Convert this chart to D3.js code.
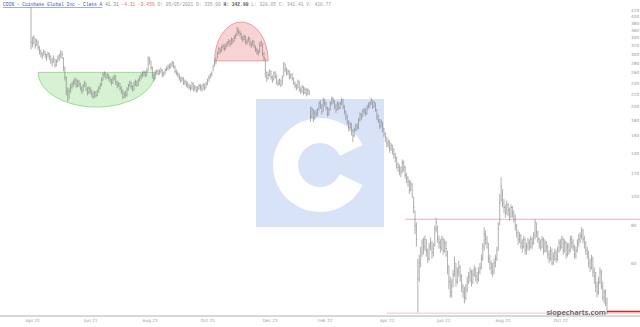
<!DOCTYPE html>
<html><head><meta charset="utf-8">
<script src="https://cdn.jsdelivr.net/npm/d3@7"></script>
<style>html,body{margin:0;padding:0;background:#fff;}svg{display:block;}</style>
</head><body>
<svg id="chart" width="640" height="327"></svg>
<script>
const lows = [310,315,322,312,318,308,298,292,288,296,290,284,292,286,278,272,280,270,272,280,284,290,288,262,244,218,208,212,222,228,232,236,230,232,232,226,220,224,232,225,218,220,220,215,212,214,214,216,222,228,234,244,250,246,248,244,240,235,238,244,236,230,232,226,220,212,213,214,216,226,232,228,224,226,234,232,234,242,246,250,252,250,252,262,276,264,248,242,246,255,254,255,258,250,252,256,262,264,266,268,272,
268,258,254,250,244,240,242,236,236,232,230,228,225,228,224,226,222,224,228,226,224,228,226,230,236,242,248,252,262,272,276,290,298,300,304,310,306,310,316,322,316,322,324,330,336,344,348,342,334,328,332,322,322,328,318,314,318,312,304,298,296,302,316,294,284,250,242,246,252,246,240,244,248,236,234,236,232,236,252,260,254,254,246,248,244,236,230,226,230,224,220,222,218,220,216,218,218,178,182,177,180,184,186,194,196,188,192,200,194,185,186,194,202,204,196,190,194,194,196,202,196,188,180,174,165,166,160,152,158,165,166,168,178,180,184,188,186,188,196,198,202,196,198,192,180,176,168,170,164,158,152,146,146,140,142,138,134,130,124,121,118,116,120,121,115,111,108,102,104,99,88,75,68,41,52,58,63,64,66,63,60,61,66,62,63,68,76,70,67,65,66,64,65,63,55,49,46,46,50,54,50,51,54,52,48,46,44,45,48,51,52,50,51,54,52,51,52,55,57,61,66,69,67,60,57,55,54,55,58,61,66,80,96,92,88,85,87,86,83,85,85,82,77,73,69,70,67,65,67,64,64,66,66,67,67,69,72,73,70,67,66,67,64,65,65,62,60,61,59,59,61,60,61,65,66,67,64,65,62,63,64,65,67,66,62,62,65,68,70,72,70,67,64,62,58,56,57,54,51,48,46,47,51,49,45,44,43,40.5];
const highs = [429,342,346,338,336,332,318,310,304,310,306,300,305,302,296,290,296,288,288,296,300,308,306,292,272,252,232,230,238,242,246,250,248,246,245,240,234,238,244,240,232,234,232,228,224,226,225,228,234,240,250,260,262,260,258,256,252,248,252,256,254,244,242,240,234,228,224,226,232,238,244,242,236,242,246,244,248,254,258,262,264,262,268,294,292,284,272,258,264,266,266,266,270,266,262,268,272,276,278,280,284,
282,274,266,262,258,252,252,250,246,244,242,238,236,242,240,236,234,234,238,238,236,240,238,242,248,254,258,262,276,286,292,306,316,314,320,324,322,326,330,336,334,340,338,346,352,369,364,358,352,344,348,344,336,344,340,330,334,332,320,314,310,328,332,326,304,290,262,260,266,264,254,262,262,256,246,248,246,254,282,278,270,266,264,258,258,250,242,238,246,244,232,236,234,232,230,230,228,200,199,196,194,195,198,208,210,204,214,212,208,200,198,208,216,215,210,204,208,206,208,214,212,202,194,188,180,178,176,168,170,175,176,183,192,190,196,198,197,202,206,208,214,210,209,206,196,188,182,181,178,170,164,158,156,154,151,149,145,140,136,130,128,126,133,132,127,120,117,114,113,111,100,90,82,62,64,68,72,73,74,72,67,70,73,71,70,80,85,80,74,72,74,73,72,71,66,59,54,53,57,63,60,58,61,59,55,51,50,51,54,56,58,57,57,59,58,56,58,60,64,70,79,77,74,70,64,61,60,62,64,68,82,102,116,106,98,94,97,95,92,94,93,90,87,81,77,76,75,72,74,73,70,73,72,74,73,76,84,82,77,73,72,74,73,72,71,69,66,68,67,65,67,66,68,72,72,74,73,72,71,70,70,74,74,72,69,68,72,75,76,79,78,74,71,68,66,62,64,63,58,56,52,54,58,57,52,49,49,46];
const closes = [328,325,340,320,330,315,305,300,295,305,298,290,300,295,285,280,290,275,282,290,295,302,298,270,250,225,210,225,232,238,240,245,236,242,238,230,225,235,240,228,222,230,225,220,215,222,218,225,230,235,245,255,258,250,255,250,245,240,248,252,240,235,238,230,225,215,220,218,228,235,240,232,228,238,242,236,245,250,255,258,260,255,262,290,285,270,255,248,260,262,258,262,265,255,258,265,268,272,270,275,280,
272,262,258,255,250,245,248,240,242,238,235,232,230,238,228,232,226,230,235,232,228,236,230,238,245,250,255,258,270,280,285,300,310,305,315,318,312,320,325,330,322,335,330,340,345,360,355,350,340,335,342,328,330,338,325,320,330,318,310,305,302,320,328,300,290,260,248,255,262,250,245,258,252,240,238,245,235,250,278,265,258,262,250,255,248,240,235,230,242,228,225,232,222,228,220,226,222,185,195,182,190,188,195,205,200,192,210,205,198,188,195,205,212,208,200,195,205,198,205,210,200,192,185,178,170,175,165,160,168,172,170,180,188,185,192,195,190,198,202,205,210,200,206,195,185,180,172,178,168,162,158,150,152,145,148,142,138,135,128,125,122,120,130,125,118,115,112,105,110,102,92,80,72,53,60,65,70,68,72,66,62,68,70,65,67,78,82,72,70,68,72,66,70,67,58,52,48,50,55,60,52,56,58,54,50,48,46,49,52,54,56,52,55,57,54,53,56,58,62,68,75,72,70,62,60,58,56,60,62,66,78,95,108,95,92,88,94,90,86,92,88,86,80,76,72,74,70,68,72,66,68,70,68,72,70,74,82,76,72,70,68,72,66,70,68,64,62,66,60,63,65,62,66,70,68,72,66,70,64,68,66,72,70,68,64,66,70,72,74,77,72,70,66,64,60,58,62,56,54,50,48,52,56,50,46,48,44,41.31];

const priceTicks = [60,80,100,120,140,160,180,200,220,240,260,280,300,320,340,360,380,400,420];
const dateTickIndex = [1,42,84,125,169,208,252,292,334,375];
const dateTickLabels = ["Apr 21","Jun 21","Aug 21","Oct 21","Dec 21","Feb 22","Apr 22","Jun 22","Aug 22","Oct 22"];

// annotations in data units: [startIndex, endIndex, basePrice, extremePrice]
const bowl = [5, 88, 260, 199];
const dome = [130, 168, 284, 383];
const resistance = [265, 84];
const support = [252, 40.8];
const lastPrice = 41.31;

const W = 640, H = 327;
const svg = d3.select("#chart");
const N = closes.length;
const x = d3.scaleLinear().domain([0, N - 1]).range([31, 607]);
const y = d3.scaleLog().domain([60, 420]).range([263, 10]);

// watermark logo
const logo = svg.append("g");
logo.append("rect").attr("x", 256).attr("y", 99).attr("width", 128).attr("height", 128).attr("fill", "#d9e3f8");
const arc = d3.arc().innerRadius(22).outerRadius(47).startAngle(Math.PI * 0.64).endAngle(Math.PI * 2.36);
logo.append("path").attr("d", arc()).attr("transform", "translate(320,165)").attr("fill", "#ffffff");

// half ellipses
function halfEllipse(a, down) {
  const x0 = x(a[0]), x1 = x(a[1]), yb = y(a[2]), ye = y(a[3]);
  const rx = (x1 - x0) / 2, ry = Math.abs(ye - yb);
  const sweep = down ? 0 : 1;
  return `M${x0},${yb} A${rx},${ry} 0 0 ${sweep} ${x1},${yb} Z`;
}
svg.append("path").attr("d", halfEllipse(bowl, true)).attr("fill", "#d6f2d3").attr("stroke", "#8fd08a").attr("stroke-width", 0.8);
svg.append("path").attr("d", halfEllipse(dome, false)).attr("fill", "#f9d3d3").attr("stroke", "#e48a8a").attr("stroke-width", 0.8);

// horizontal lines
svg.append("line").attr("x1", x(resistance[0])).attr("x2", W).attr("y1", y(resistance[1])).attr("y2", y(resistance[1])).attr("stroke", "#dcaed0").attr("stroke-width", 1);
svg.append("line").attr("x1", x(support[0])).attr("x2", W).attr("y1", y(support[1])).attr("y2", y(support[1])).attr("stroke", "#f2c4c8").attr("stroke-width", 1);

// bars
const bars = svg.append("g").attr("stroke", "#7a7a7a").attr("stroke-width", 0.6);
d3.range(N).forEach(i => {
  bars.append("line").attr("x1", x(i)).attr("x2", x(i)).attr("y1", y(highs[i])).attr("y2", y(lows[i]));
  bars.append("line").attr("x1", x(i)).attr("x2", x(i) + 0.8).attr("y1", y(closes[i])).attr("y2", y(closes[i]));
});

// axes
const yAxis = d3.axisRight(y).tickValues(priceTicks).tickSize(0).tickPadding(0).tickFormat(d3.format("d"));
const ga = svg.append("g").attr("transform", "translate(631,0)").call(yAxis);
ga.select(".domain").remove();
ga.selectAll("text").attr("font-size", "4.3px").attr("fill", "#999").attr("font-family", "DejaVu Sans");

svg.append("line").attr("x1", 0).attr("x2", W).attr("y1", 316).attr("y2", 316).attr("stroke", "#b0b0b0").attr("stroke-width", 1);
const xAxis = d3.axisBottom(x).tickValues(dateTickIndex).tickSize(0).tickPadding(0).tickFormat((d, i) => dateTickLabels[i]);
const gx = svg.append("g").attr("transform", "translate(0,319)").call(xAxis);
gx.select(".domain").remove();
gx.selectAll("text").attr("font-size", "4.3px").attr("fill", "#999").attr("font-family", "DejaVu Sans");

// last price line & watermark text
svg.append("text").attr("x", 606).attr("y", 314.5).attr("text-anchor", "end").attr("font-family", "Open Sans").attr("font-size", "7.5px").attr("font-weight", 600).attr("fill", "#555").text("slopecharts.com");
svg.append("line").attr("x1", x(N - 1)).attr("x2", W).attr("y1", y(lastPrice)).attr("y2", y(lastPrice)).attr("stroke", "#e02020").attr("stroke-width", 1.5);

// header
const hdr = svg.append("text").attr("x", 3).attr("y", 6).attr("font-family", "Liberation Mono").attr("font-size", "4.6px");
hdr.append("tspan").attr("fill", "#3a4fb8").attr("text-decoration", "underline").text("COIN - Coinbase Global Inc - Class A");
hdr.append("tspan").attr("fill", "#888").text(" 41.31 ");
hdr.append("tspan").attr("fill", "#e07070").text("-4.31 -9.45%");
hdr.append("tspan").attr("fill", "#999").text(" D: 05/05/2021 O: 335.00 ");
hdr.append("tspan").attr("fill", "#555").attr("font-weight", "bold").text("H: 342.99");
hdr.append("tspan").attr("fill", "#999").text(" L: 328.05 C: 341.41 V: 420.77");
</script>
</body></html>
